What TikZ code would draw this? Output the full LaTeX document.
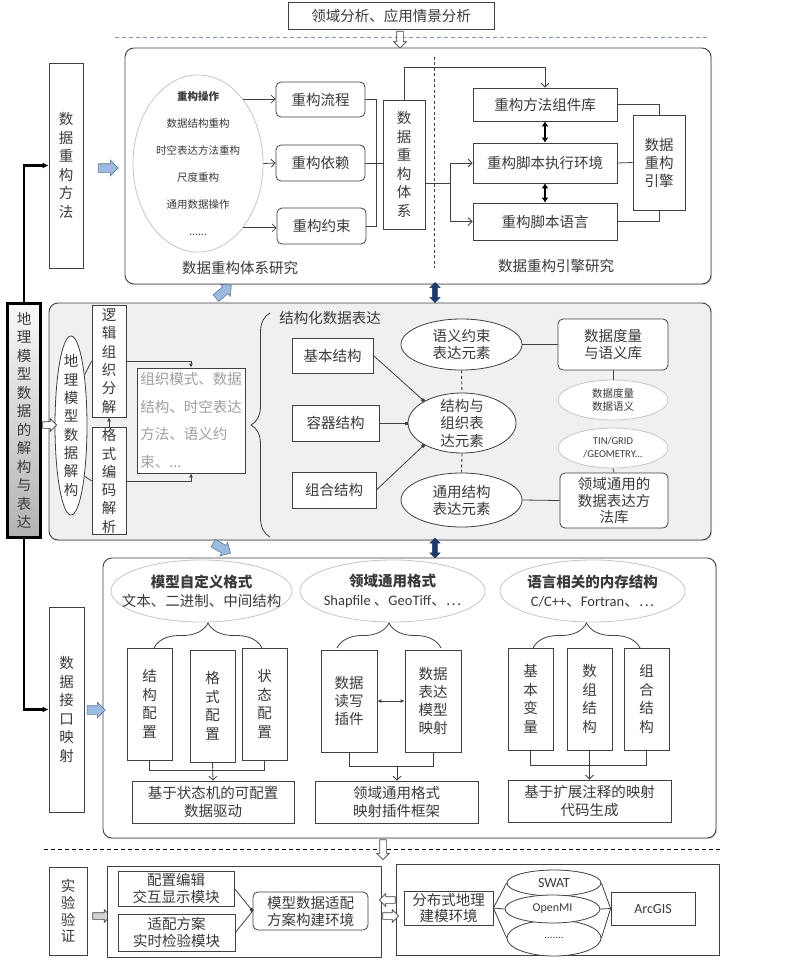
\documentclass[tikz,border=0pt]{standalone}
\usepackage{fontspec}
\setmainfont{Noto Sans CJK SC}
\newfontfamily\latinfont{Carlito}
\usetikzlibrary{positioning, arrows.meta, calc, shapes.geometric, shapes.arrows, decorations.pathreplacing, shadows}

\definecolor{txtgray}{HTML}{3A3A3A}
\definecolor{linegray}{HTML}{404040}
\definecolor{panelgray}{HTML}{F0F0F0}
\definecolor{lightblue}{HTML}{9DBBE0}
\definecolor{darkblue}{HTML}{1B3A6B}
\definecolor{sepblue}{HTML}{8497B0}

\tikzset{
    sz/.style 2 args={minimum width=#1, minimum height=#2},
    box/.style={rectangle, draw=linegray, line width=0.8pt, fill=white, inner sep=1pt, align=center},
    rbox/.style={box, rounded corners=5pt},
    oval/.style={ellipse, draw=linegray, line width=0.8pt, fill=white, inner sep=0pt},
    paleoval/.style={oval, draw=gray!45},
    panel/.style={draw=linegray, line width=0.9pt, rounded corners=9pt,
        drop shadow={shadow xshift=1.2pt, shadow yshift=-1.2pt, opacity=0.3}},
    link/.style={draw=linegray, line width=0.8pt},
    openarrow/.style={link, -{Straight Barb[length=4pt, width=8pt]}},
    tiparrow/.style={link, -{Latex[length=4pt, width=4pt]}},
    twotip/.style={link, {Latex[length=4pt, width=4pt]}-{Latex[length=4pt, width=4pt]}},
    dotlink/.style={link, -{Square[length=3pt, width=3pt]}},
    bothway/.style={line width=1.6pt, {Latex[length=5pt, width=7pt]}-{Latex[length=5pt, width=7pt]}},
    mainlink/.style={line width=2.2pt, -{Latex[length=6pt, width=6pt]}},
    bluearrow/.style={single arrow, draw=darkblue!70, fill=lightblue, line width=0.6pt, inner sep=4pt,
        single arrow head extend=3.5pt, minimum height=20pt},
    hollowarrow/.style={single arrow, draw=linegray, fill=white, line width=0.7pt, inner sep=3pt,
        single arrow head extend=3pt, minimum height=17pt},
    navyarrow/.style={double arrow, fill=darkblue, draw=darkblue, inner sep=2.5pt,
        double arrow head extend=2.5pt, minimum height=20pt, rotate=90},
    curly/.style={link, decorate, decoration={brace, amplitude=#1}},
}

\begin{document}
\begin{tikzpicture}[x=1pt, y=-1pt, font=\fontsize{14.5}{18}\selectfont, text=txtgray]
\useasboundingbox (0,0) rectangle (800,971);

% scene analysis
\node[box, sz={206}{27}] (scene) at (391,15.5) {领域分析、应用情景分析};
\draw[sepblue, line width=0.9pt, dash pattern=on 4pt off 3pt] (115,37) -- (710,37);
\node[hollowarrow, rotate=-90] (a0) at (400,38) {};

% ---- panel 1: reconstruction
\draw[panel, fill=white] (125,48) rectangle (711,284);
\node[box, sz={34}{205}, font=\fontsize{14.5}{18.5}\selectfont] (recm) at (66,165.5) {数\\据\\重\\构\\方\\法};
\node[bluearrow] (ba1) at (106,168) {};

\node[paleoval, sz={130}{177},
    label={[align=center, font=\fontsize{10.5}{27}\selectfont]center:{\textbf{重构操作}\\数据结构重构\\时空表达方法重构\\尺度重构\\通用数据操作\\......}}]
    (ops) at (198,163.5) {};
\node[rbox, sz={89}{35}] (flow) at (320.5,99.5) {重构流程};
\node[rbox, sz={89}{36}] (dep) at (320.5,163) {重构依赖};
\node[rbox, sz={89}{36}] (cons) at (321.5,226) {重构约束};
\draw[openarrow] (ops.55) -- (ops.55 -| flow.west);
\draw[openarrow] (ops.east) -- (dep.west);
\draw[openarrow] (ops.-55) -- (ops.-55 -| cons.west);

\node[box, sz={42}{129}, font=\fontsize{14.5}{18.5}\selectfont] (sys) at (404,164.5) {数\\据\\重\\构\\体\\系};
\draw[link] (flow.east) -- ++(11,0) |- (cons.east);
\draw[link] (dep.east) -- (sys.west |- dep.east);

\draw[linegray, line width=0.9pt, dash pattern=on 3pt off 2.5pt] (434,57) -- (434,268);

\node[box, sz={144}{33}] (lib) at (545,104.5) {重构方法组件库};
\node[box, sz={144}{40}] (env) at (545,163) {重构脚本执行环境};
\node[box, sz={144}{37}] (lang) at (545,221.5) {重构脚本语言};
\node[box, sz={52}{95}] (eng) at (659,162.5) {数据\\重构\\引擎};

\draw[openarrow] (sys.north) -- ++(0,-32) -| (lib.north);
\coordinate (split) at ($(sys.east)+(25,18.5)$);
\draw[link] (sys.east |- split) -- (split);
\draw[openarrow] (split) |- (env.west);
\draw[openarrow] (split) |- (lang.west);
\draw[bothway] (lib.south) -- (env.north);
\draw[bothway] (env.south) -- (lang.north);
\draw[link] (lib.east) -| (eng.north);
\draw[link] (env.east) -- (eng.west);
\draw[link] (lang.east) -| (eng.south);

\node (sysres) at (240,268) {数据重构体系研究};
\node (engres) at (556,266) {数据重构引擎研究};

\node[bluearrow, rotate=40] (ba2) at (222,293) {};
\node[navyarrow] (na1) at (435,292.5) {};

% ---- panel 2: deconstruction and expression
\draw[panel, fill=panelgray] (49,303) rectangle (711,540);

\node[oval, sz={32}{179},
    label={[align=center, font=\fontsize{14.5}{18.3}\selectfont]center:{地\\理\\模\\型\\数\\据\\解\\构}}]
    (decon) at (71,425.5) {};
\node[box, sz={34}{112}, font=\fontsize{14.5}{18.3}\selectfont] (logic) at (109,361) {逻\\辑\\组\\织\\分\\解};
\node[box, sz={34}{106}, font=\fontsize{14.5}{18.3}\selectfont] (fmt) at (109,481) {格\\式\\编\\码\\解\\析};
\draw[link] (decon.75) -- (logic.west);
\draw[link] (decon.-75) -- (fmt.west);
\draw[tiparrow] (fmt.north) -- (logic.south);

\node[box, sz={108}{105}, align=left, text=gray!75, font=\fontsize{14.5}{27.5}\selectfont] (desc) at (191,420.5)
    {组织模式、数据\\结构、时空表达\\方法、语义约\\束、...};
\draw[tiparrow] (logic.east) -| (desc.north);
\draw[tiparrow] (fmt.east) -| (desc.south);

\draw[curly=19pt] (270,537) -- (270,313);
\node (sdexp) at (330,318) {结构化数据表达};

\node[box, sz={81}{35}] (basic) at (332.5,355.5) {基本结构};
\node[box, sz={87}{36}] (cont) at (335.5,423) {容器结构};
\node[box, sz={84}{36}] (comp) at (334,490) {组合结构};

\node[oval, sz={121}{51},
    label={[align=center, font=\fontsize{14.5}{17}\selectfont]center:{语义约束\\表达元素}}]
    (sem) at (461.5,344.5) {};
\node[oval, sz={108}{60},
    label={[align=center, font=\fontsize{14.5}{17.5}\selectfont]center:{结构与\\组织表\\达元素}}]
    (org) at (462,423) {};
\node[oval, sz={121}{54},
    label={[align=center, font=\fontsize{14.5}{17}\selectfont]center:{通用结构\\表达元素}}]
    (gen) at (461.5,500) {};

\draw[dotlink] (basic.east) -- (org.150);
\draw[dotlink] (cont.east) -- (org.west);
\draw[dotlink] (comp.east) -- (org.210);
\draw[linegray, line width=0.9pt, dash pattern=on 3pt off 2.5pt] (sem.south) -- (org.north);
\draw[linegray, line width=0.9pt, dash pattern=on 3pt off 2.5pt] (org.south) -- (gen.north);

\node[rbox, sz={110}{51}, font=\fontsize{14.5}{17}\selectfont] (measure) at (613,344.5) {数据度量\\与语义库};
\node[rbox, sz={108}{55}, font=\fontsize{14.5}{16.5}\selectfont] (domlib) at (614,500.5) {领域通用的\\数据表达方\\法库};
\draw[link] (sem.east) -- (measure.west);
\draw[link] (gen.east) -- (domlib.west);

\node[paleoval, sz={110}{40},
    label={[align=center, font=\fontsize{10.5}{12.7}\selectfont]center:{数据度量\\数据语义}}]
    (semtag) at (613,400) {};
\node[paleoval, sz={110}{40},
    label={[align=center, font=\latinfont\fontsize{10.5}{13}\selectfont]center:{TIN/GRID\\/GEOMETRY...}}]
    (geotag) at (613,448) {};
\draw[link] (measure.south) -- (semtag.north);
\draw[link] (geotag.south) -- (domlib.north);

\node[draw=black, line width=2.6pt, top color=gray!5, bottom color=gray!60, sz={33}{234}, align=center,
    font=\fontsize{14.5}{18.5}\selectfont] (main) at (24,420.5) {地\\理\\模\\型\\数\\据\\的\\解\\构\\与\\表\\达};
\node[hollowarrow, minimum height=14pt] (a1) at (48,425) {};
\draw[mainlink] (main.north) |- (recm.west);

\node[bluearrow, rotate=-30] (ba3) at (220,547) {};
\node[navyarrow] (na2) at (435,548) {};

% ---- panel 3: interface mapping
\draw[panel, fill=white] (103,558) rectangle (716,838);
\node[box, sz={35}{205}, font=\fontsize{14.5}{18.5}\selectfont] (intf) at (66.5,709.5) {数\\据\\接\\口\\映\\射};
\draw[mainlink] (main.south) |- (intf.west);
\node[bluearrow, minimum height=18pt] (ba4) at (94,710) {};

\node[paleoval, sz={181}{62},
    label={[align=center, font=\fontsize{14.5}{19}\selectfont]center:{\textbf{模型自定义格式}\\文本、二进制、中间结构}}]
    (fmtA) at (201.5,591) {};
\node[paleoval, sz={185}{62},
    label={[align=center, font=\fontsize{14.5}{19}\selectfont]center:{\textbf{领域通用格式}\\{\latinfont Shapfile} 、{\latinfont GeoTiff}、…}}]
    (fmtB) at (392.5,591) {};
\node[paleoval, sz={185}{62},
    label={[align=center, font=\fontsize{14.5}{19}\selectfont]center:{\textbf{语言相关的内存结构}\\{\latinfont C/C++}、{\latinfont Fortran}、…}}]
    (fmtC) at (592.5,591) {};

\draw[curly=25pt] (154,648) -- (262,648);
\draw[curly=25pt] (337,648) -- (441,648);
\draw[curly=25pt] (533,648) -- (640,648);

\node[box, sz={45}{112}, font=\fontsize{14.5}{18.5}\selectfont] (sc) at (149.5,704) {结\\构\\配\\置};
\node[box, sz={45}{112}, font=\fontsize{14.5}{18.5}\selectfont] (fc) at (212.5,706) {格\\式\\配\\置};
\node[box, sz={45}{112}, font=\fontsize{14.5}{18.5}\selectfont] (stc) at (264.5,704) {状\\态\\配\\置};
\node[box, sz={162}{42}] (drv) at (213,802) {基于状态机的可配置\\数据驱动};
\draw[link] (sc.south) -- ++(0,10) -| (stc.south);
\draw[openarrow] (fc.south) -- (drv.north);

\node[box, sz={56}{102}] (rw) at (349,701) {数据\\读写\\插件};
\node[box, sz={56}{102}] (mp) at (433,701) {数据\\表达\\模型\\映射};
\node[box, sz={163}{42}] (mapfw) at (396.5,802) {领域通用格式\\映射插件框架};
\draw[twotip] (rw.east) -- (mp.west);
\draw[link] (rw.south) -- ++(0,14) -| (mp.south);
\coordinate (j2) at ($(rw.south)!0.5!(mp.south)+(6,14)$);
\draw[openarrow] (j2) -- (j2 |- mapfw.north);

\node[box, sz={45}{102}, font=\fontsize{14.5}{18.5}\selectfont] (bv) at (530.5,699) {基\\本\\变\\量};
\node[box, sz={45}{102}, font=\fontsize{14.5}{18.5}\selectfont] (ar) at (589.5,699) {数\\组\\结\\构};
\node[box, sz={45}{102}, font=\fontsize{14.5}{18.5}\selectfont] (cs) at (646.5,699) {组\\合\\结\\构};
\node[box, sz={163}{42}] (code) at (589.5,801) {基于扩展注释的映射\\代码生成};
\draw[link] (bv.south) -- ++(0,15) -| (cs.south);
\draw[openarrow] (ar.south) -- (code.north);

% ---- experiment
\draw[black, line width=0.9pt, dash pattern=on 4pt off 3pt] (44,849) -- (720,849);
\node[hollowarrow, rotate=-90, minimum height=20pt] (a2) at (383,848) {};

\node[box, sz={38}{88}, font=\fontsize{14.5}{16.7}\selectfont] (exp) at (68,911) {实\\验\\验\\证};
\node[hollowarrow, fill=gray!35, minimum height=18pt] (a3) at (100,916) {};

\node[box, sz={274}{91}] (envA) at (244,911.5) {};
\node[box, sz={116}{35}, font=\fontsize{14.5}{17}\selectfont] (cfg) at (176,888.5) {配置编辑\\交互显示模块};
\node[box, sz={117}{37}, font=\fontsize{14.5}{17}\selectfont] (chk) at (176.5,932.5) {适配方案\\实时检验模块};
\node[rbox, sz={115}{38}, font=\fontsize{14.5}{17}\selectfont] (bld) at (310.5,911) {模型数据适配\\方案构建环境};
\draw[dotlink] (cfg.east) -- (bld.west);
\draw[link] (chk.east) -- (bld.west);

\node[box, sz={323}{91}] (envB) at (557.5,909.5) {};
\node[hollowarrow, rotate=180, minimum height=16pt] (a4) at (389,900) {};
\node[hollowarrow, minimum height=16pt] (a5) at (389,916) {};

\node[box, sz={89}{34}, font=\fontsize{14.5}{16}\selectfont] (dist) at (448.5,908) {分布式地理\\建模环境};
\node[oval, sz={94}{26}, font=\latinfont\fontsize{14}{14}\selectfont] (swat) at (554,883) {SWAT};
\node[oval, sz={94}{36}, font=\fontsize{10}{10}\selectfont] (more) at (554,938) {.......};
\node[oval, sz={95}{28}, font=\latinfont\fontsize{12}{12}\selectfont] (omi) at (552.5,909) {OpenMI};
\node[box, sz={84}{33}, font=\latinfont\fontsize{14}{14}\selectfont] (arc) at (653,908.5) {ArcGIS};
\draw[link] (dist.east) -- (swat.west);
\draw[link] (dist.east) -- (omi.west);
\draw[link] (dist.east) -- (more.west);
\draw[link] (swat.east) -- (arc.west);
\draw[link] (omi.east) -- (arc.west);
\draw[link] (more.east) -- (arc.west);
\end{tikzpicture}
\end{document}
